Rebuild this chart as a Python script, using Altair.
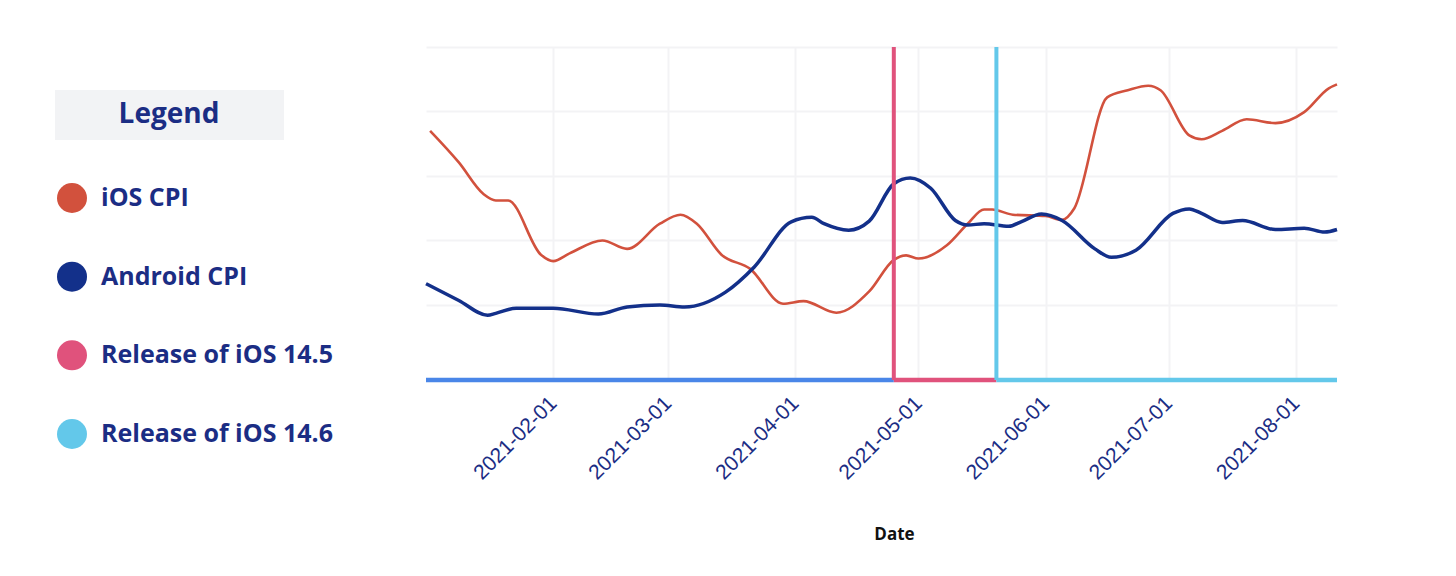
import altair as alt
import pandas as pd

# ---------------- data ----------------
ios_dates = ["2021-01-02", "2021-01-09", "2021-01-15", "2021-01-18", "2021-01-21", "2021-01-29",
             "2021-02-01", "2021-02-05", "2021-02-13", "2021-02-19", "2021-02-27",
             "2021-03-04", "2021-03-08", "2021-03-14", "2021-03-21", "2021-03-29",
             "2021-04-03", "2021-04-11", "2021-04-19", "2021-04-25", "2021-04-28",
             "2021-05-01", "2021-05-08", "2021-05-13", "2021-05-17", "2021-05-19",
             "2021-05-24", "2021-06-01", "2021-06-05", "2021-06-08", "2021-06-16",
             "2021-06-21", "2021-06-26", "2021-06-29", "2021-07-06", "2021-07-09",
             "2021-07-14", "2021-07-20", "2021-07-27", "2021-08-03", "2021-08-09",
             "2021-08-11"]
ios_values = [3.70, 3.21, 2.72, 2.62, 2.62, 1.78,
              1.68, 1.80, 2.00, 1.87, 2.26,
              2.40, 2.26, 1.78, 1.56, 1.02,
              1.06, 0.88, 1.21, 1.70, 1.77,
              1.72, 1.93, 2.26, 2.48, 2.48,
              2.40, 2.38, 2.32, 2.50, 4.22,
              4.33, 4.40, 4.33, 3.63, 3.57,
              3.70, 3.88, 3.82, 3.99, 4.36,
              4.42]

android_dates = ["2021-01-01", "2021-01-09", "2021-01-16", "2021-01-18", "2021-01-23", "2021-02-01",
                 "2021-02-12", "2021-02-19", "2021-02-27", "2021-03-05", "2021-03-15",
                 "2021-03-22", "2021-03-31", "2021-04-05", "2021-04-08", "2021-04-14",
                 "2021-04-19", "2021-04-25", "2021-04-29", "2021-05-04", "2021-05-10",
                 "2021-05-13", "2021-05-17", "2021-05-23", "2021-05-26", "2021-05-31",
                 "2021-06-05", "2021-06-13", "2021-06-17", "2021-06-23", "2021-07-02",
                 "2021-07-06", "2021-07-09", "2021-07-14", "2021-07-19", "2021-07-27",
                 "2021-08-03", "2021-08-08", "2021-08-11"]
android_values = [1.33, 1.07, 0.84, 0.87, 0.95, 0.95,
                  0.86, 0.97, 1.00, 0.97, 1.20,
                  1.59, 2.29, 2.36, 2.26, 2.16,
                  2.30, 2.88, 2.97, 2.81, 2.31,
                  2.24, 2.26, 2.22, 2.29, 2.41,
                  2.31, 1.87, 1.74, 1.85, 2.42,
                  2.49, 2.42, 2.28, 2.31, 2.17,
                  2.19, 2.13, 2.17]

legend_names = ["iOS CPI", "Android CPI", "Release of iOS 14.5", "Release of iOS 14.6"]
legend_colors = ["#D2513D", "#13308A", "#E0527C", "#63C8EA"]

release_names = ["Release of iOS 14.5", "Release of iOS 14.6"]
release_dates = ["2021-04-25", "2021-05-20"]

period_starts = ["2021-01-01", "2021-04-25", "2021-05-20"]
period_ends = ["2021-04-25", "2021-05-20", "2021-08-11"]
period_colors = ["#4A86E8", "#E0527C", "#63C8EA"]

x_tick_months = [2, 3, 4, 5, 6, 7, 8]
y_grid_values = [1, 2, 3, 4, 5]
y_low, y_high = -0.163, 5

NAVY = "#1B2D84"
GRID = "#F3F3F5"


def ts(d):
    return d + "T00:00:00"


ios_df = pd.DataFrame({"date": [ts(d) for d in ios_dates], "value": ios_values})
android_df = pd.DataFrame({"date": [ts(d) for d in android_dates], "value": android_values})
release_df = pd.DataFrame({"date": [ts(d) for d in release_dates], "name": release_names,
                           "top": [y_high] * len(release_names),
                           "bottom": [y_low] * len(release_names)})
period_df = pd.DataFrame({"start": [ts(d) for d in period_starts],
                          "end": [ts(d) for d in period_ends],
                          "color": period_colors,
                          "level": [y_low] * len(period_colors)})

# ---------------- main chart ----------------
x_scale = alt.Scale(domain=[alt.DateTime(year=2021, month=1, date=1),
                            alt.DateTime(year=2021, month=8, date=11)])
y_scale = alt.Scale(domain=[y_low, y_high], nice=False, zero=False)

x_axis = alt.Axis(
    values=[alt.DateTime(year=2021, month=m, date=1) for m in x_tick_months],
    format="%Y-%m-%d", labelAngle=-45, labelAlign="right", labelBaseline="middle",
    labelFont="Liberation Sans", labelFontSize=21, labelColor=NAVY,
    labelPadding=20, labelOverlap=False, labelFlush=False,
    ticks=False, tickSize=0, domain=False,
    grid=True, gridColor=GRID, gridWidth=2,
    title="Date", titleFont="Open Sans", titleFontSize=17, titleFontWeight="bold",
    titleColor="#111111", titleX=468, titleY=154, titleBaseline="middle",
    titleAlign="center",
)
y_axis = alt.Axis(values=y_grid_values, labels=False, ticks=False, domain=False,
                  title=None, grid=True, gridColor=GRID, gridWidth=2)

color_scale = alt.Scale(domain=legend_names, range=legend_colors)

ios_line = alt.Chart(ios_df).mark_line(
    interpolate="monotone", strokeWidth=2.6, color=legend_colors[0]
).encode(
    x=alt.X("date:T", scale=x_scale, axis=x_axis),
    y=alt.Y("value:Q", scale=y_scale, axis=y_axis),
)
android_line = alt.Chart(android_df).mark_line(
    interpolate="monotone", strokeWidth=3.5, color=legend_colors[1]
).encode(
    x=alt.X("date:T", scale=x_scale, axis=x_axis),
    y=alt.Y("value:Q", scale=y_scale, axis=y_axis),
)
periods = alt.Chart(period_df).mark_rule(strokeWidth=4.5).encode(
    x=alt.X("start:T", scale=x_scale, axis=x_axis),
    x2="end:T",
    y=alt.Y("level:Q", scale=y_scale, axis=y_axis),
    color=alt.Color("color:N", scale=None, legend=None),
)
releases = alt.Chart(release_df).mark_rule(strokeWidth=4).encode(
    x=alt.X("date:T", scale=x_scale, axis=x_axis),
    y=alt.Y("top:Q", scale=y_scale, axis=y_axis),
    y2="bottom:Q",
    color=alt.Color("name:N", scale=color_scale, legend=None),
)

main = alt.layer(periods, ios_line, android_line, releases).properties(width=911, height=333)

# ---------------- custom legend panel ----------------
legend_df = pd.DataFrame({"name": legend_names})
header_df = pd.DataFrame({"title": ["Legend"]})
y_leg = alt.Y("name:N", scale=alt.Scale(type="point", domain=legend_names,
                                        range=[151, 387], padding=0), axis=None)

header_box = alt.Chart(header_df).mark_rect(color="#F2F3F5").encode(
    x=alt.value(42), x2=alt.value(271), y=alt.value(43), y2=alt.value(93)
)
header_text = alt.Chart(header_df).mark_text(
    font="Open Sans", fontSize=28, fontWeight="bold", color=NAVY,
    align="center", baseline="middle"
).encode(x=alt.value(156), y=alt.value(68), text="title:N")
dots = alt.Chart(legend_df).mark_circle(size=900, opacity=1).encode(
    x=alt.value(59), y=y_leg,
    color=alt.Color("name:N", scale=color_scale, legend=None),
)
labels = alt.Chart(legend_df).mark_text(
    font="Open Sans", fontSize=25, fontWeight="bold", color=NAVY,
    align="left", baseline="middle"
).encode(x=alt.value(88), y=y_leg, text="name:N")

legend_panel = alt.layer(header_box, header_text, dots, labels).properties(width=406, height=420)

chart = alt.hconcat(legend_panel, main, spacing=0).properties(
    padding={"left": 5, "top": 37, "right": 5, "bottom": 5}
).configure_view(strokeWidth=0).configure_concat(spacing=0)

chart.save("out.html", embed_options={"renderer": "svg", "actions": False})
